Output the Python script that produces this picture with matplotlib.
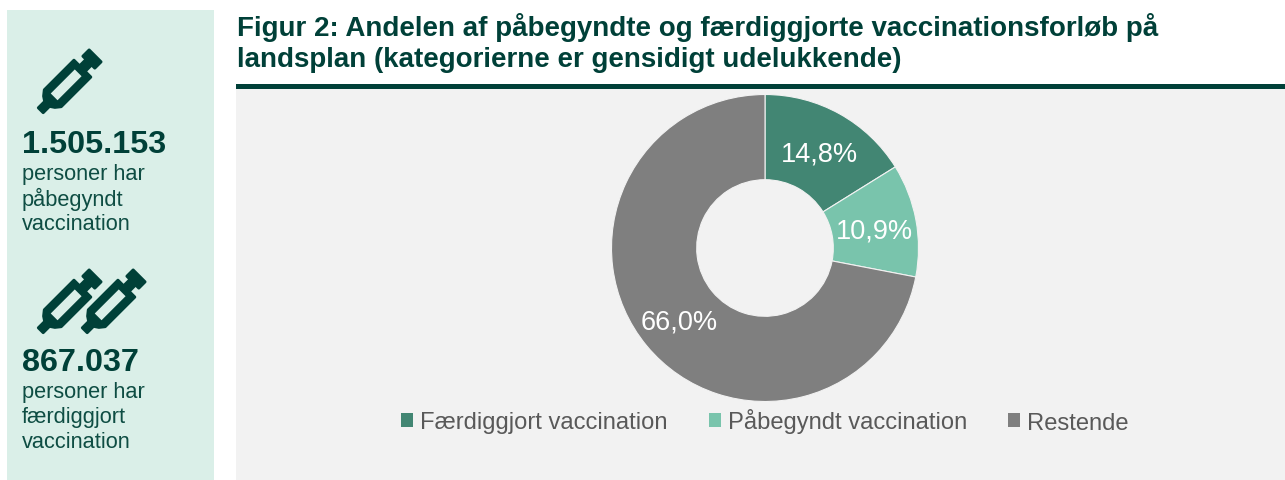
import numpy as np
import matplotlib
matplotlib.use("Agg")
import matplotlib.pyplot as plt
from matplotlib.patches import Rectangle, Polygon, Patch
from matplotlib.transforms import Affine2D

categories = ["Færdiggjort vaccination", "Påbegyndt vaccination", "Restende"]
values = [14.8, 10.9, 66.0]
value_labels = ["14,8%", "10,9%", "66,0%"]
colors = ["#428673", "#79C4AC", "#7F7F7F"]
title_lines = ["Figur 2: Andelen af påbegyndte og færdiggjorte vaccinationsforløb på",
               "landsplan (kategorierne er gensidigt udelukkende)"]
stat_numbers = ["1.505.153", "867.037"]
stat_texts = [["personer har", "påbegyndt", "vaccination"],
              ["personer har", "færdiggjort", "vaccination"]]

W, H = 1285, 481
DARK = "#004038"
plt.rcParams["font.family"] = ["Liberation Sans", "DejaVu Sans"]
fig = plt.figure(figsize=(W / 100, H / 100), dpi=100, facecolor="white")

bg = fig.add_axes([0, 0, 1, 1])
bg.set_xlim(0, W); bg.set_ylim(H, 0); bg.axis("off")
bg.add_patch(Rectangle((7, 10.5), 207, 470.5, fc="#DAEFE8", ec="none"))
bg.add_patch(Rectangle((236, 90), 1049, 391, fc="#F2F2F2", ec="none"))
bg.add_patch(Rectangle((236, 85), 1049, 4.5, fc=DARK, ec="none"))

for line, y in zip(title_lines, [27, 60]):
    bg.text(237, y, line, fontsize=19.95, fontweight="bold", color=DARK, va="center", ha="left")


def syringe(tx, ty):
    tr = Affine2D().rotate_deg(-45).translate(tx, ty) + bg.transData
    outline = [(1, 3.5), (10, 3.5), (13, 8), (18, 12), (60, 12), (60, 4), (69, 4), (69, 8.5), (78, 8.5),
               (78, -8.5), (69, -8.5), (69, -4), (60, -4), (60, -12), (18, -12), (13, -8), (10, -3.5), (1, -3.5)]
    bg.add_patch(Polygon(outline, closed=True, fc=DARK, ec=DARK, lw=2, joinstyle="round", transform=tr))
    hole = [(20, 4.8), (54, 4.8), (54, -4.8), (20, -4.8)]
    bg.add_patch(Polygon(hole, closed=True, fc="#DAEFE8", ec="none", transform=tr))


syringe(40, 112)
syringe(40, 332)
syringe(84, 332)

for num, y0, lines in zip(stat_numbers, [145, 363], stat_texts):
    bg.text(22, y0, num, fontsize=23.3, fontweight="bold", color=DARK, va="center", ha="left")
    for i, t in enumerate(lines):
        bg.text(22, y0 + 30 + i * 24.7, t, fontsize=15.7, color="#0E4D43", va="center", ha="left")

cx, cy, R = 765, 249, 153.5
ax = fig.add_axes([(cx - R) / W, 1 - (cy + R) / H, 2 * R / W, 2 * R / H])
wedges, _ = ax.pie(values, colors=colors, startangle=90, counterclock=False, radius=1,
                   wedgeprops=dict(width=0.555, edgecolor="#F2F2F2", linewidth=0.8))
ax.set_xlim(-1, 1); ax.set_ylim(-1, 1); ax.set_aspect("equal"); ax.axis("off")
for w, lab in zip(wedges, value_labels):
    a = np.deg2rad((w.theta1 + w.theta2) / 2)
    ax.text(0.725 * np.cos(a), 0.725 * np.sin(a), lab, color="white", fontsize=19.5, ha="center", va="center_baseline")

handles = [Patch(fc=c, ec="none") for c in colors]
fig.legend(handles, categories, ncol=3, loc="center", bbox_to_anchor=(765 / W, 1 - 422 / H), frameon=False,
           fontsize=17.1, labelcolor="#595959", handlelength=0.5, handleheight=0.5, handletextpad=0.3,
           columnspacing=1.73, borderpad=0, borderaxespad=0)

fig.savefig("out.png", dpi=100, facecolor="white")
